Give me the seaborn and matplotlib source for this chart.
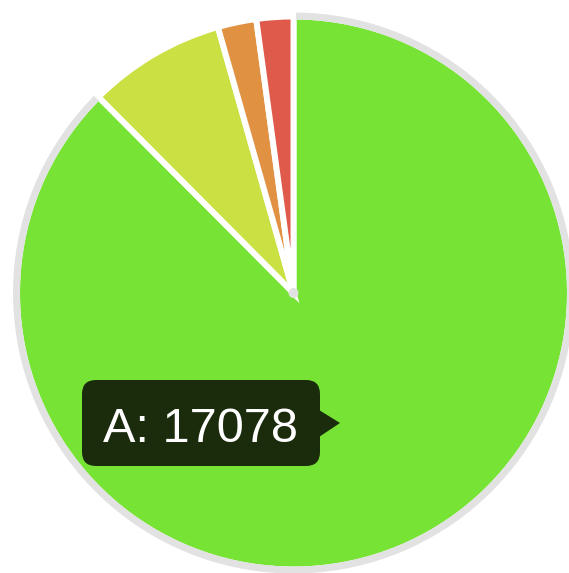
import matplotlib
matplotlib.use("Agg")
import matplotlib.pyplot as plt
import seaborn as sns
from matplotlib.patches import Wedge, Circle, FancyBboxPatch, Polygon

# slice data (clockwise from 12 o'clock)
labels = ["A", "B", "C", "D"]
values = [17078, 1570, 440, 420]
colors = ["#77e335", "#cbe043", "#e09142", "#df5a4a"]
hovered = "A"

sns.set_theme(style="white")
plt.rcParams["font.family"] = ["Liberation Sans", "DejaVu Sans"]

fig = plt.figure(figsize=(5.69, 5.73), dpi=100)
ax = fig.add_axes([0, 0, 1, 1])

cx, cy, r = 293.5, 280, 276.5
wedges, _ = ax.pie(values, colors=colors, startangle=90, counterclock=False,
                   center=(cx, cy), radius=r,
                   wedgeprops=dict(edgecolor="white", linewidth=4.3))

# hover outline on the active slice (covers its white outer stroke)
w = wedges[labels.index(hovered)]
ax.add_patch(Wedge((cx, cy), r + 4, w.theta1 + 0.5, w.theta2 - 0.5, width=7,
                   facecolor="#e2e2e2", edgecolor="none", zorder=3))
ax.add_patch(Circle((cx, cy), 5, facecolor="#e2e2e2", edgecolor="none", zorder=3))

# tooltip
ax.add_patch(FancyBboxPatch((82, 573 - 466), 238, 86,
                            boxstyle="round,pad=0,rounding_size=14",
                            facecolor="#1b2c0c", edgecolor="none", zorder=4))
ax.add_patch(Polygon([(319, 573 - 410), (340, 573 - 423), (319, 573 - 437)],
                     closed=True, facecolor="#1b2c0c", edgecolor="none", zorder=4))
ax.text(103, 573 - 441.5, f"{hovered}: {values[labels.index(hovered)]}",
        color="white", fontsize=35, ha="left", va="baseline", zorder=5)

ax.set_xlim(0, 569)
ax.set_ylim(0, 573)
ax.set_aspect("auto")
ax.axis("off")

fig.savefig("out.png", dpi=100)
